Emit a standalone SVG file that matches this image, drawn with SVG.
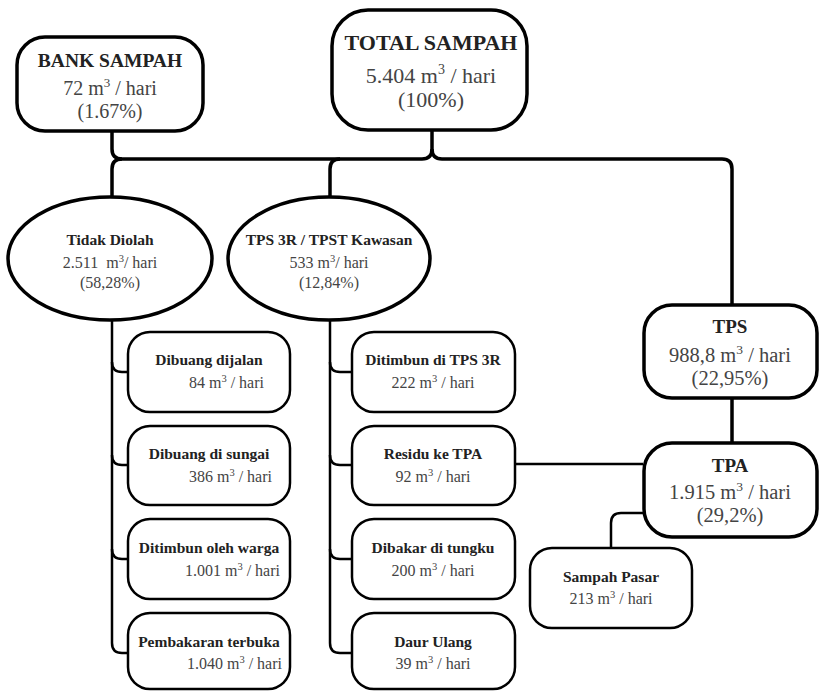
<svg xmlns="http://www.w3.org/2000/svg" width="822" height="691" viewBox="0 0 822 691">
<style>
.big{fill:#fff;stroke:#000;stroke-width:3.5}
.sm{fill:#fff;stroke:#000;stroke-width:2.5}
.con{fill:none;stroke:#000;stroke-width:3.5}
.con2{fill:none;stroke:#000;stroke-width:2.5}
text{font-family:"Liberation Serif","Times New Roman",serif;text-anchor:middle}
.t{font-weight:bold;fill:#222}
.v{fill:#444}
.r{text-anchor:end}
</style>
<rect width="822" height="691" fill="#fff"/>
<g id="connectors">
<path class="con" d="M112,131 V149 Q112,159 122,159 H422 Q432,159 432,149 V130"/>
<path class="con" d="M122,159 Q112,159 112,169 V197"/>
<path class="con" d="M340,159 Q330,159 330,169 V197"/>
<path class="con" d="M432,149 Q432,159 442,159 H722 Q732,159 732,169 V305"/>
<path class="con" d="M732,398 V443"/>
<path class="con2" d="M112,320 V643 Q112,653 122,653 H128"/>
<path class="con2" d="M112,362 Q112,372 122,372 H128 M112,455 Q112,465 122,465 H128 M112,549 Q112,559 122,559 H128"/>
<path class="con2" d="M330,320 V643 Q330,653 340,653 H352"/>
<path class="con2" d="M330,362 Q330,372 340,372 H352 M330,455 Q330,465 340,465 H352 M330,549 Q330,559 340,559 H352"/>
<path class="con2" d="M515,464 H643"/>
<path class="con2" d="M611,548 V523 Q611,513 621,513 H643"/>
</g>
<g id="bank-sampah">
<rect class="big" x="17" y="37" width="186" height="94" rx="28"/>
<text class="t" x="110" y="67" font-size="19.5">BANK SAMPAH</text>
<text class="v" x="110" y="95" font-size="20">72 m<tspan dy="-8" font-size="13">3</tspan><tspan dy="8"> / hari</tspan></text>
<text class="v" x="110" y="118" font-size="20">(1.67%)</text>
</g>
<g id="total-sampah">
<rect class="big" x="332" y="10" width="195" height="120" rx="36"/>
<text class="t" x="431" y="50" font-size="22">TOTAL SAMPAH</text>
<text class="v" x="431" y="83" font-size="22">5.404 m<tspan dy="-9" font-size="14">3</tspan><tspan dy="9"> / hari</tspan></text>
<text class="v" x="431" y="107" font-size="22">(100%)</text>
</g>
<g id="tidak-diolah">
<ellipse class="big" cx="110" cy="258.5" rx="102" ry="61.5"/>
<text class="t" x="110" y="245" font-size="15.5">Tidak Diolah</text>
<text class="v" x="110" y="268" font-size="16" xml:space="preserve">2.511  m<tspan dy="-6" font-size="10.5">3</tspan><tspan dy="6">/ hari</tspan></text>
<text class="v" x="110" y="288" font-size="16">(58,28%)</text>
</g>
<g id="tps3r">
<ellipse class="big" cx="329" cy="258.5" rx="101" ry="61.5"/>
<text class="t" x="329" y="245" font-size="15.5">TPS 3R / TPST Kawasan</text>
<text class="v" x="329" y="268" font-size="16">533 m<tspan dy="-6" font-size="10.5">3</tspan><tspan dy="6">/ hari</tspan></text>
<text class="v" x="329" y="288" font-size="16">(12,84%)</text>
</g>
<g id="dibuang-dijalan">
<rect class="sm" x="128" y="332" width="162" height="80" rx="22"/>
<text class="t" x="209" y="365" font-size="15.5">Dibuang dijalan</text>
<text class="v r" x="264" y="388" font-size="16">84 m<tspan dy="-6" font-size="10.5">3</tspan><tspan dy="6"> / hari</tspan></text>
</g>
<g id="dibuang-sungai">
<rect class="sm" x="128" y="426" width="162" height="79" rx="22"/>
<text class="t" x="209" y="459" font-size="15.5">Dibuang di sungai</text>
<text class="v r" x="272" y="482" font-size="16">386 m<tspan dy="-6" font-size="10.5">3</tspan><tspan dy="6"> / hari</tspan></text>
</g>
<g id="ditimbun-warga">
<rect class="sm" x="128" y="519" width="162" height="80" rx="22"/>
<text class="t" x="209" y="553" font-size="15.5">Ditimbun oleh warga</text>
<text class="v r" x="280" y="576" font-size="16">1.001 m<tspan dy="-6" font-size="10.5">3</tspan><tspan dy="6"> / hari</tspan></text>
</g>
<g id="pembakaran">
<rect class="sm" x="128" y="613" width="162" height="76" rx="22"/>
<text class="t" x="209" y="647" font-size="15.5">Pembakaran terbuka</text>
<text class="v r" x="282" y="669" font-size="16">1.040 m<tspan dy="-6" font-size="10.5">3</tspan><tspan dy="6"> / hari</tspan></text>
</g>
<g id="ditimbun-tps3r">
<rect class="sm" x="352" y="332" width="163" height="80" rx="22"/>
<text class="t" x="433" y="365" font-size="15.5">Ditimbun di TPS 3R</text>
<text class="v" x="433" y="388" font-size="16">222 m<tspan dy="-6" font-size="10.5">3</tspan><tspan dy="6"> / hari</tspan></text>
</g>
<g id="residu">
<rect class="sm" x="352" y="426" width="163" height="79" rx="22"/>
<text class="t" x="433" y="459" font-size="15.5">Residu ke TPA</text>
<text class="v" x="433" y="482" font-size="16">92 m<tspan dy="-6" font-size="10.5">3</tspan><tspan dy="6"> / hari</tspan></text>
</g>
<g id="dibakar">
<rect class="sm" x="352" y="519" width="163" height="80" rx="22"/>
<text class="t" x="433" y="553" font-size="15.5">Dibakar di tungku</text>
<text class="v" x="433" y="576" font-size="16">200 m<tspan dy="-6" font-size="10.5">3</tspan><tspan dy="6"> / hari</tspan></text>
</g>
<g id="daur-ulang">
<rect class="sm" x="352" y="613" width="163" height="76" rx="22"/>
<text class="t" x="433" y="647" font-size="15.5">Daur Ulang</text>
<text class="v" x="433" y="669" font-size="16">39 m<tspan dy="-6" font-size="10.5">3</tspan><tspan dy="6"> / hari</tspan></text>
</g>
<g id="tps">
<rect class="big" x="644" y="305" width="173" height="93" rx="28"/>
<text class="t" x="730" y="333" font-size="19">TPS</text>
<text class="v" x="730" y="362" font-size="20.5">988,8 m<tspan dy="-8" font-size="13.5">3</tspan><tspan dy="8"> / hari</tspan></text>
<text class="v" x="730" y="385" font-size="20.5">(22,95%)</text>
</g>
<g id="tpa">
<rect class="big" x="644" y="443" width="173" height="94" rx="28"/>
<text class="t" x="730" y="472" font-size="19">TPA</text>
<text class="v" x="730" y="499" font-size="20.5">1.915 m<tspan dy="-8" font-size="13.5">3</tspan><tspan dy="8"> / hari</tspan></text>
<text class="v" x="730" y="522" font-size="20.5">(29,2%)</text>
</g>
<g id="sampah-pasar">
<rect class="sm" x="530" y="548" width="162" height="80" rx="22"/>
<text class="t" x="611" y="582" font-size="15.5">Sampah Pasar</text>
<text class="v" x="611" y="604" font-size="16">213 m<tspan dy="-6" font-size="10.5">3</tspan><tspan dy="6"> / hari</tspan></text>
</g>
</svg>
